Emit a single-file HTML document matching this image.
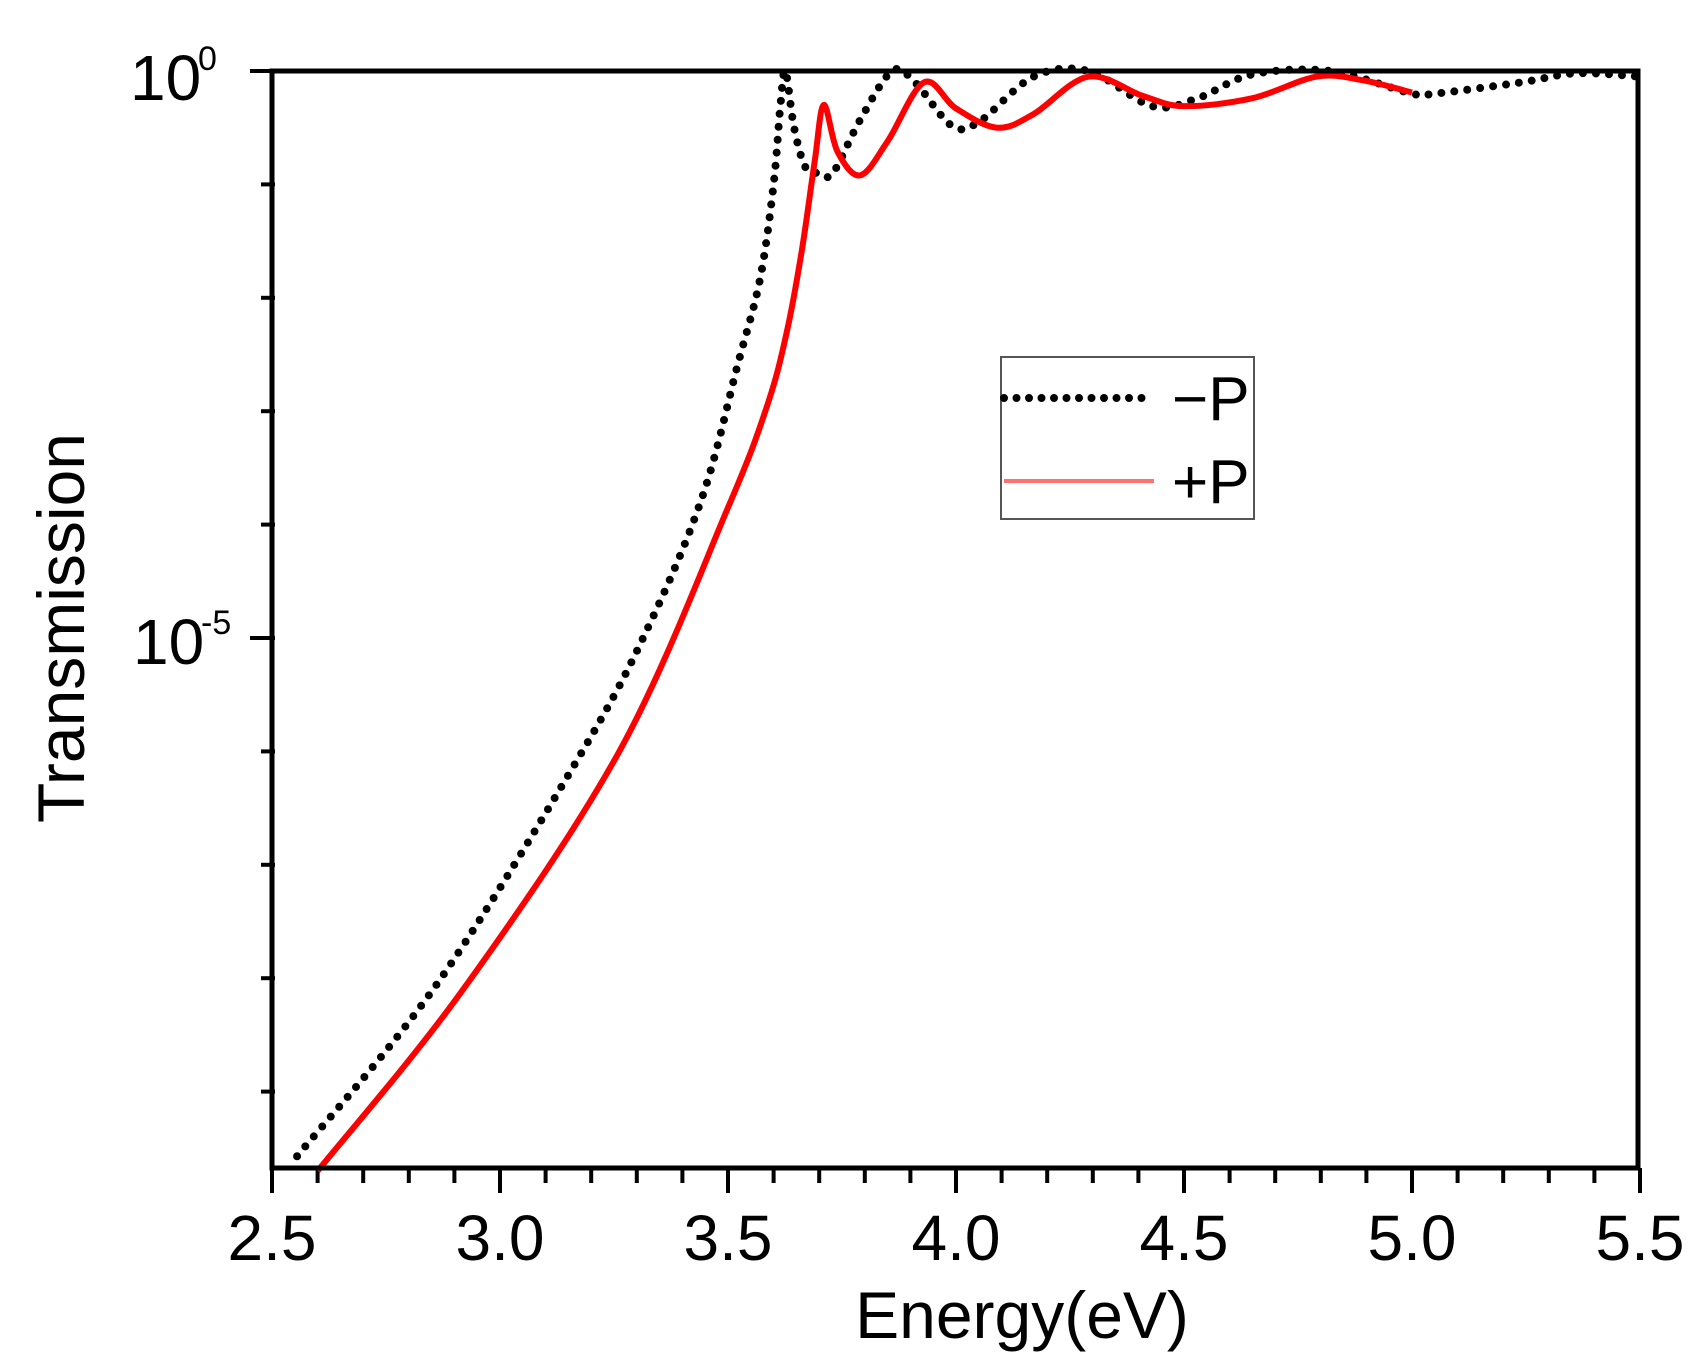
<!DOCTYPE html>
<html><head><meta charset="utf-8"><style>
html,body{margin:0;padding:0;background:#fff;}
svg{display:block;}
text{font-family:"Liberation Sans",sans-serif;fill:#000;}
</style></head><body>
<svg id="s" width="1703" height="1367" viewBox="0 0 1703 1367" xmlns="http://www.w3.org/2000/svg">
<g id="ticks" stroke="#000" stroke-width="4"></g>
<path id="blk" fill="none" stroke="#000" stroke-width="8" stroke-linecap="round" stroke-dasharray="0 13"/>
<path id="red" fill="none" stroke="#ff0000" stroke-width="6" stroke-linejoin="round"/>
<rect x="272" y="71" width="1366" height="1097" fill="none" stroke="#000" stroke-width="5"/>
<text x="130" y="100" font-size="64">10</text><text x="198" y="70" font-size="34">0</text>
<text x="133" y="664" font-size="64">10</text><text x="201" y="634" font-size="34">-5</text>
<text transform="translate(84,628) rotate(-90)" text-anchor="middle" font-size="66">Transmission</text>
<g font-size="64" text-anchor="middle">
<text x="272" y="1260">2.5</text><text x="500" y="1260">3.0</text><text x="728" y="1260">3.5</text>
<text x="956" y="1260">4.0</text><text x="1184" y="1260">4.5</text><text x="1412" y="1260">5.0</text><text x="1640" y="1260">5.5</text>
</g>
<text x="1022" y="1338" font-size="66" text-anchor="middle">Energy(eV)</text>
<rect x="1001" y="357" width="253" height="162" fill="#fff" stroke="#555" stroke-width="2"/>
<line x1="1004" y1="398" x2="1154" y2="398" stroke="#000" stroke-width="8" stroke-linecap="round" stroke-dasharray="0 12.5"/>
<line x1="1004" y1="481" x2="1154" y2="481" stroke="#ff7070" stroke-width="4"/>
<text x="1172" y="420" font-size="62">−P</text>
<text x="1172" y="503" font-size="62">+P</text>
</svg>
<script>
var X=function(E){return 272+(E-2.5)*456},Y=function(l){return 71-l*113.4};
var t=document.getElementById('ticks'),h='';
for(var i=0;i<=30;i++){var x=X(2.5+i*0.1);var L=(i%5==0)?25:15;h+='<line x1="'+x+'" y1="1168" x2="'+x+'" y2="'+(1168+L)+'"/>';}
for(var d=0;d<=9;d++){var y=Y(-d);var L=(d%5==0)?25:14;h+='<line x1="'+(275-L)+'" y1="'+y+'" x2="275" y2="'+y+'"/>';}
t.innerHTML=h;
function path(p){var q=p.map(function(a){return[X(a[0]),Y(a[1])]});var s='M'+q[0][0]+' '+q[0][1];
for(var i=0;i<q.length-1;i++){var p0=q[Math.max(0,i-1)],p1=q[i],p2=q[i+1],p3=q[Math.min(q.length-1,i+2)];
s+=' C'+(p1[0]+(p2[0]-p0[0])/6)+' '+(p1[1]+(p2[1]-p0[1])/6)+' '+(p2[0]-(p3[0]-p1[0])/6)+' '+(p2[1]-(p3[1]-p1[1])/6)+' '+p2[0]+' '+p2[1];}return s;}
var blk=[[2.555,-9.57],[2.862,-8.05],[3.182,-5.99],[3.329,-4.87],[3.445,-3.74],[3.52,-2.61],[3.57,-1.84],[3.60,-1.0],[3.615,-0.3],[3.626,0],[3.645,-0.5],[3.67,-0.85],[3.70,-0.9],[3.73,-0.9],[3.79,-0.43],[3.86,0],[3.91,-0.1],[3.99,-0.48],[4.05,-0.45],[4.17,-0.05],[4.29,0],[4.43,-0.31],[4.53,-0.24],[4.65,-0.03],[4.82,0],[5.0,-0.2],[5.05,-0.2],[5.24,-0.1],[5.36,-0.02],[5.5,-0.05]];
var red=[[2.60,-9.7],[2.919,-8.1],[3.263,-5.99],[3.50,-3.85],[3.586,-2.95],[3.629,-2.3],[3.662,-1.58],[3.69,-0.8],[3.71,-0.3],[3.74,-0.71],[3.79,-0.92],[3.85,-0.62],[3.93,-0.1],[4.0,-0.33],[4.09,-0.5],[4.17,-0.38],[4.29,-0.05],[4.41,-0.22],[4.5,-0.31],[4.65,-0.24],[4.79,-0.05],[4.89,-0.08],[5.0,-0.19]];
document.getElementById('blk').setAttribute('d',path(blk));
document.getElementById('red').setAttribute('d',path(red));
</script>
</body></html>
